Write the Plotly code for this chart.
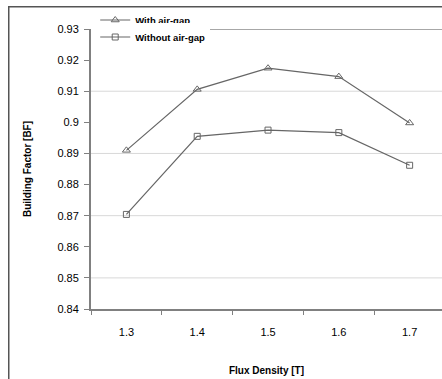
import plotly.graph_objects as go

categories = ["1.3", "1.4", "1.5", "1.6", "1.7"]
with_gap = [0.8910, 0.9106, 0.9174, 0.9147, 0.8998]
without_gap = [0.8704, 0.8955, 0.8975, 0.8967, 0.8862]
series_names = ["With air-gap", "Without air-gap"]
y_ticks = [0.84, 0.85, 0.86, 0.87, 0.88, 0.89, 0.90, 0.91, 0.92, 0.93]
grid_vals = [0.85, 0.87, 0.89, 0.91]

FONT = "Arial, Liberation Sans, sans-serif"
line_col = "#666666"

fig = go.Figure()
fig.add_trace(go.Scatter(
    x=categories, y=with_gap, name=series_names[0], mode="lines+markers",
    line=dict(color=line_col, width=1.2), legend="legend",
    marker=dict(symbol="triangle-up-open", size=7, color=line_col, line=dict(width=1)),
))
fig.add_trace(go.Scatter(
    x=categories, y=without_gap, name=series_names[1], mode="lines+markers",
    line=dict(color=line_col, width=1.2), legend="legend2",
    marker=dict(symbol="square-open", size=6, color=line_col, line=dict(width=1)),
))

# gridlines
for g in grid_vals:
    fig.add_shape(type="line", xref="paper", yref="y", x0=0, x1=1, y0=g, y1=g,
                  line=dict(color="#d8d8d8", width=1), layer="below")
fig.add_shape(type="line", xref="paper", yref="y", x0=0.339, x1=1, y0=0.93, y1=0.93,
              line=dict(color="#8a8a8a", width=1.3), layer="below")

# outer frame: an empty bordered box whose right and bottom sides fall outside the picture
fig.add_annotation(
    xref="paper", yref="paper", x=-0.236, y=1.083, xanchor="left", yanchor="top",
    text="", showarrow=False, width=520, height=440, borderpad=0,
    bordercolor="#555555", borderwidth=1.5, bgcolor="rgba(0,0,0,0)",
)

leg_common = dict(xanchor="left", yanchor="middle", bgcolor="white",
                  font=dict(size=9.5, family=FONT, weight="bold", color="black"),
                  itemwidth=30, borderwidth=0)

fig.update_layout(
    width=442, height=379,
    margin=dict(l=91, r=0, t=29, b=70, autoexpand=False),
    paper_bgcolor="white", plot_bgcolor="white",
    font=dict(family=FONT, color="black", size=11),
    showlegend=True,
    legend=dict(x=0.012, y=(309 - 20) / 280, **leg_common),
    legend2=dict(x=0.012, y=(309 - 37) / 280, **leg_common),
    xaxis=dict(
        type="category", range=[-0.5, 4.457], showgrid=False, automargin=False,
        showline=True, linecolor="#808080", linewidth=2,
        ticks="outside", tickson="boundaries", ticklen=4, tickcolor="#808080",
        tickfont=dict(size=11), zeroline=False, ticklabelstandoff=12,
        title=dict(text="<b>Flux Density [T]</b>", font=dict(size=10), standoff=30),
    ),
    yaxis=dict(
        range=[0.84, 0.93], tickvals=y_ticks, ticktext=[f"{v:g}" for v in y_ticks],
        showgrid=False, showline=True, linecolor="#808080", linewidth=2, automargin=False,
        ticks="outside", ticklen=5, tickcolor="#808080", tickfont=dict(size=11),
        zeroline=False, ticklabelstandoff=3,
        title=dict(text="<b>Building Factor [BF]</b>", font=dict(size=10), standoff=24),
    ),
)

fig.write_html("out.html")
